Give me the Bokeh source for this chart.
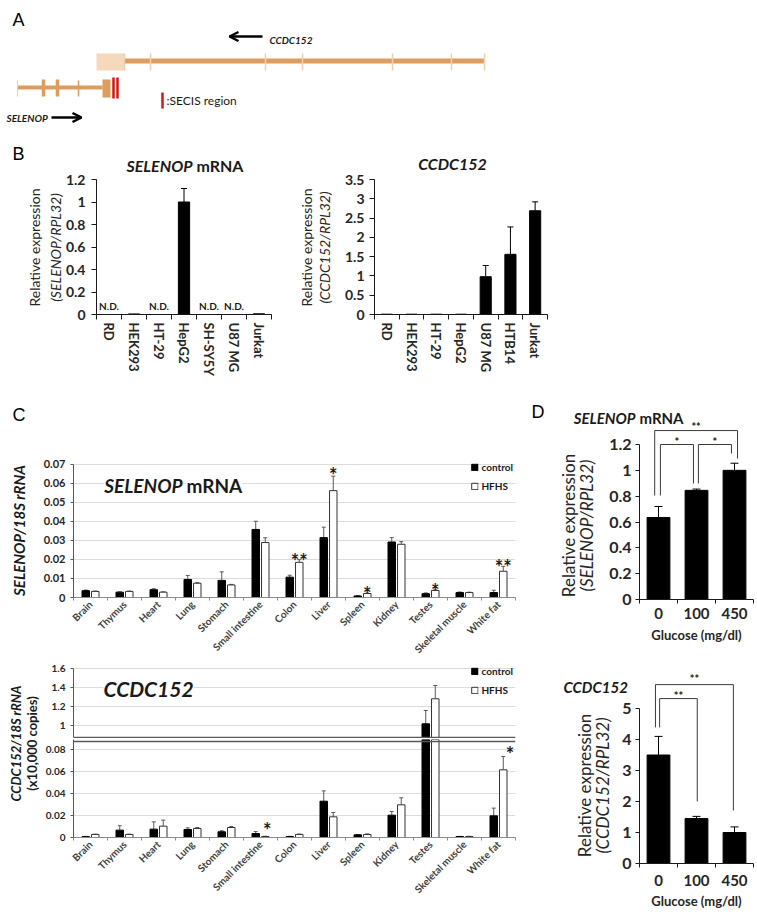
import math
from bokeh.plotting import figure
from bokeh.models import (Range1d, FixedTicker, Label, ColumnDataSource, Whisker, TeeHead,
                          Arrow, OpenHead, Legend, LegendItem, Spacer, CustomJSTickFormatter, GridBox)
from bokeh.layouts import column, row
from bokeh.embed import file_html
from bokeh.resources import INLINE

FONT = "Lato"
LETTER_FONT = "Liberation Sans"
INK = "#1a1a1a"
ORANGE = "#dc9d5e"
LIGHT = "#f3cfae"
PALE = "#f6d8bc"
RED = "#cc1a1a"

# ---------------- data ----------------
# Panel A : gene schematic (positions along the drawing)
ccdc_utr = [96, 124]
ccdc_body = [124, 484]
ccdc_exon_edges = [124, 150, 265, 302, 392, 451, 484]
selenop_body = [17, 102]
selenop_exon_big = [43, 57]
selenop_exon_small = [17, 78]
selenop_last_exon = [102, 110]
secis_pos = [113, 117]

# Panel B : cell lines
cells_sel = ["RD", "HEK293", "HT-29", "HepG2", "SH-SY5Y", "U87 MG", "Jurkat"]
sel_cells = [0.0, 0.005, 0.0, 1.0, 0.0, 0.0, 0.006]
sel_cells_err = [0, 0, 0, 0.12, 0, 0, 0]
sel_cells_nd = [1, 0, 1, 0, 1, 1, 0]
cells_ccdc = ["RD", "HEK293", "HT-29", "HepG2", "U87 MG", "HTB14", "Jurkat"]
ccdc_cells = [0.008, 0.008, 0.008, 0.008, 0.98, 1.56, 2.69]
ccdc_cells_err = [0, 0, 0, 0, 0.29, 0.71, 0.23]

# Panel C : mouse tissues, control vs HFHS
tissues = ["Brain", "Thymus", "Heart", "Lung", "Stomach", "Small intestine", "Colon",
           "Liver", "Spleen", "Kidney", "Testes", "Skeletal muscle", "White fat"]
sel_ctrl = [0.0036, 0.0028, 0.0041, 0.0095, 0.0090, 0.0358, 0.0107, 0.0315, 0.0008, 0.0292, 0.0020, 0.0026, 0.0026]
sel_ctrl_err = [0.0003, 0.0002, 0.0005, 0.0021, 0.0045, 0.0043, 0.0010, 0.0055, 0.0002, 0.0023, 0.0004, 0.0003, 0.0012]
sel_hfhs = [0.0032, 0.0032, 0.0028, 0.0075, 0.0066, 0.0289, 0.0185, 0.0562, 0.0021, 0.0280, 0.0037, 0.0026, 0.0138]
sel_hfhs_err = [0.0002, 0.0002, 0.0002, 0.0003, 0.0003, 0.0025, 0.0014, 0.0076, 0.0002, 0.0014, 0.0003, 0.0002, 0.0026]
sel_stars = [(6, "**", 0.0233), (7, "*", 0.0679), (8, "*", 0.0062), (10, "*", 0.0073), (12, "**", 0.0202)]

ccdc_ctrl = [0.0008, 0.0067, 0.0076, 0.0073, 0.0052, 0.0036, 0.0009, 0.0330, 0.0024, 0.0203, 1.018, 0.0009, 0.0197]
ccdc_ctrl_err = [0.0002, 0.0040, 0.0066, 0.0015, 0.0009, 0.0018, 0.0002, 0.0094, 0.0003, 0.0033, 0.14, 0.0002, 0.0070]
ccdc_hfhs = [0.0028, 0.0028, 0.0103, 0.0082, 0.0091, 0.0009, 0.0028, 0.0188, 0.0027, 0.0297, 1.281, 0.0009, 0.0615]
ccdc_hfhs_err = [0.0002, 0.0002, 0.0055, 0.0009, 0.0009, 0.0002, 0.0003, 0.0039, 0.0006, 0.0064, 0.14, 0.0002, 0.0121]
ccdc_stars = [(5, "*", 0.0127), (12, "*", 0.0813)]

# Panel D : glucose
glucose = ["0", "100", "450"]
sel_glu = [0.635, 0.845, 1.0]
sel_glu_err = [0.085, 0.01, 0.055]
ccdc_glu = [3.5, 1.45, 1.0]
ccdc_glu_err = [0.6, 0.07, 0.18]
# brackets: (x from, x to, top, left leg bottom, right leg bottom, label, label y)
sel_brackets = [(0.40, 2.58, 1.308, 0.805, 1.091, "**", 1.362),
                (0.55, 1.42, 1.2, 0.805, 0.898, "*", 1.246),
                (1.55, 2.42, 1.2, 0.898, 1.13, "*", 1.246)]
ccdc_brackets = [(0.42, 2.47, 5.77, 4.39, 1.71, "**", 6.06),
                 (0.53, 1.52, 5.32, 4.39, 2.0, "**", 5.52)]


# ---------------- helpers ----------------
class Geo:
    def __init__(self, fx, fy, W, H, fl, fr, ft, fb, xr, yr):
        self.fx, self.fy, self.W, self.H = fx, fy, W, H
        self.fl, self.fr, self.ft, self.fb = fl, fr, ft, fb
        self.xr, self.yr = xr, yr

    def PX(self, x):
        return self.fl + (x - self.xr[0]) / (self.xr[1] - self.xr[0]) * (self.fr - self.fl)

    def PY(self, y):
        return self.fb - (y - self.yr[0]) / (self.yr[1] - self.yr[0]) * (self.fb - self.ft)


def mkfig(g, xaxis=True, yaxis=True):
    p = figure(width=g.W, height=g.H, x_range=Range1d(*g.xr), y_range=Range1d(*g.yr),
               x_axis_location="below" if xaxis else None,
               y_axis_location="left" if yaxis else None,
               min_border_left=g.fl - g.fx, min_border_right=g.fx + g.W - g.fr,
               min_border_top=g.ft - g.fy, min_border_bottom=g.fy + g.H - g.fb,
               output_backend="svg", toolbar_location=None)
    p.outline_line_color = None
    p.grid.visible = False
    return p


# overlay figure that carries all free texts, in page pixel coordinates
W_PAGE, H_PAGE = 757, 917
gO = Geo(0, 0, W_PAGE, H_PAGE, 0, W_PAGE, 0, H_PAGE, (0, W_PAGE), (H_PAGE, 0))
pO = mkfig(gO, False, False)
pO.background_fill_color = None
pO.border_fill_color = None


def txt(px, py, text, size, style="bold", color=INK, align="center",
        baseline="middle", angle=0.0, font=FONT, bg=None):
    lab = Label(x=px, y=py, text=text, text_font=font,
                text_font_size=f"{size}px", text_font_style=style, text_color=color,
                text_align=align, text_baseline=baseline, angle=angle)
    if bg is not None:
        lab.background_fill_color = bg
    pO.add_layout(lab)


def star(g, x, y, text, size, color=INK):
    txt(g.PX(x), g.PY(y) + 0.3 * size, text, size, color=color)


def errbars(p, xs, tops, errs, color, size, yr=None):
    xx, lo, hi = [], [], []
    for x, t, e in zip(xs, tops, errs):
        if e <= 0:
            continue
        if yr is not None and (t + e > yr[1] or t < yr[0]):
            continue
        xx.append(x); lo.append(t); hi.append(t + e)
    if not xx:
        return
    src = ColumnDataSource(dict(x=xx, lo=lo, hi=hi))
    p.add_layout(Whisker(source=src, base="x", lower="lo", upper="hi", dimension="height",
                         line_color=color, line_width=1, lower_head=None,
                         upper_head=TeeHead(size=size, line_color=color, line_width=1)))


def style_y(p, ticks, size, bounds, standoff, tick_out=4, color="#262626", line_color=INK):
    ax = p.yaxis[0]
    ax.ticker = FixedTicker(ticks=ticks, minor_ticks=[])
    ax.formatter = CustomJSTickFormatter(code="return String(Math.round(tick*10000)/10000);")
    ax.bounds = bounds
    ax.major_label_text_font = FONT
    ax.major_label_text_font_size = f"{size}px"
    ax.major_label_text_font_style = "bold"
    ax.major_label_text_color = color
    ax.major_label_standoff = standoff
    ax.major_tick_in = 0
    ax.major_tick_out = tick_out
    ax.major_tick_line_color = line_color
    ax.axis_line_color = line_color
    ax.minor_tick_line_color = None


def style_x(p, names, size, orientation, standoff, tick_out=4, color="#262626", line_color=INK):
    ax = p.xaxis[0]
    n = len(names)
    ax.ticker = FixedTicker(ticks=[i + 0.5 for i in range(n)], minor_ticks=list(range(n + 1)))
    ax.formatter = CustomJSTickFormatter(
        args=dict(names=names),
        code="const i = Math.floor(tick); return (i >= 0 && i < names.length) ? names[i] : '';")
    ax.major_tick_in = 0
    ax.major_tick_out = 0
    ax.minor_tick_in = 0
    ax.minor_tick_out = tick_out
    ax.minor_tick_line_color = line_color
    ax.axis_line_color = line_color
    ax.major_label_orientation = orientation
    ax.major_label_text_font = FONT
    ax.major_label_text_font_size = f"{size}px"
    ax.major_label_text_font_style = "bold"
    ax.major_label_text_color = color
    ax.major_label_standoff = standoff


# ---------------- Panel A ----------------
gA = Geo(0, 0, W_PAGE, 138, 0, W_PAGE, 0, 138, (0, W_PAGE), (138, 0))
pA = mkfig(gA, False, False)
pA.quad(left=ccdc_utr[0], right=ccdc_utr[1], top=53, bottom=70, fill_color=PALE, line_color=None)
pA.segment(x0=ccdc_body[0], x1=ccdc_body[1], y0=60.5, y1=60.5, line_width=5, line_color=ORANGE)
pA.segment(x0=ccdc_exon_edges, x1=ccdc_exon_edges, y0=53, y1=70, line_width=1.5, line_color=LIGHT)
pA.segment(x0=selenop_body[0], x1=selenop_body[1], y0=87, y1=87, line_width=4, line_color=ORANGE)
pA.segment(x0=[selenop_exon_small[0]], x1=[selenop_exon_small[0]], y0=80, y1=96, line_width=1.2, line_color=LIGHT)
pA.segment(x0=selenop_exon_small[1:], x1=selenop_exon_small[1:], y0=80, y1=96, line_width=1.5, line_color=ORANGE)
pA.segment(x0=selenop_exon_big, x1=selenop_exon_big, y0=79, y1=96, line_width=3.5, line_color=ORANGE)
pA.quad(left=selenop_last_exon[0], right=selenop_last_exon[1], top=79, bottom=97, fill_color=ORANGE, line_color=None)
pA.segment(x0=secis_pos, x1=secis_pos, y0=77, y1=98, line_width=2.5, line_color=RED)
pA.segment(x0=[162], x1=[162], y0=92, y1=108, line_width=2.5, line_color=RED)
pA.add_layout(Arrow(end=OpenHead(size=9, line_width=2.5, line_color="black"),
                    x_start=262, y_start=36, x_end=229, y_end=36, line_width=2.5, line_color="black"))
pA.add_layout(Arrow(end=OpenHead(size=9, line_width=2.5, line_color="black"),
                    x_start=51, y_start=117, x_end=81, y_end=117, line_width=2.5, line_color="black"))
txt(12, 19, "A", 18, style="normal", align="left", font=LETTER_FONT, color="black")
txt(269, 39, "CCDC152", 10, style="bold italic", align="left")
txt(6, 117, "SELENOP", 10, style="bold italic", align="left")
txt(166, 100, ":SECIS region", 12, style="normal", align="left")

# ---------------- Panel B ----------------
gB1 = Geo(0, 138, 290, 262, 96, 271, 179, 314, (0, 7), (0, 1.2))
pB1 = mkfig(gB1)
xs7 = [i + 0.5 for i in range(7)]
pB1.vbar(x=xs7, top=sel_cells, width=0.45, fill_color="black", line_color="black")
errbars(pB1, xs7, sel_cells, sel_cells_err, "black", 6)
style_x(pB1, cells_sel, 13, "vertical", 3, 5)
style_y(pB1, [0, 0.2, 0.4, 0.6, 0.8, 1, 1.2], 14, (0, 1.2), 6, 5)
for i, nd in enumerate(sel_cells_nd):
    if nd:
        txt(gB1.PX(xs7[i]), 305, "N.D.", 10)
txt(12, 153, "B", 18, style="normal", align="left", font=LETTER_FONT, color="black")
txt(192, 165, "SELENOP", 16, style="bold italic", align="right")
txt(196, 165, "mRNA", 16, style="bold", align="left")
txt(34, 247, "Relative expression", 14, style="normal", angle=math.pi / 2, color="#262626")
txt(55, 247, "(SELENOP/RPL32)", 14, style="italic", angle=math.pi / 2, color="#262626")

gB2 = Geo(290, 138, 270, 262, 374, 547, 179, 314, (0, 7), (0, 3.5))
pB2 = mkfig(gB2)
pB2.vbar(x=xs7, top=ccdc_cells, width=0.45, fill_color="black", line_color="black")
errbars(pB2, xs7, ccdc_cells, ccdc_cells_err, "black", 6)
style_x(pB2, cells_ccdc, 13, "vertical", 3, 5)
style_y(pB2, [0, 0.5, 1, 1.5, 2, 2.5, 3, 3.5], 14, (0, 3.5), 5, 5)
txt(452, 163, "CCDC152", 16, style="bold italic")
txt(306, 247, "Relative expression", 14, style="normal", angle=math.pi / 2, color="#262626")
txt(324, 247, "(CCDC152/RPL32)", 14, style="italic", angle=math.pi / 2, color="#262626")

# ---------------- Panel C ----------------
xs13 = [i + 0.5 for i in range(13)]
x_ctrl = [x - 0.14 for x in xs13]
x_hfhs = [x + 0.14 for x in xs13]
BW = 0.22
GRID = "#dcdcdc"
ERR = "#5a5a5a"


def c_legend(p, r1, r2):
    leg = Legend(items=[LegendItem(label="control", renderers=[r1]),
                        LegendItem(label="HFHS", renderers=[r2])],
                 location="top_right", margin=0, padding=2, spacing=6,
                 glyph_width=8, glyph_height=8, label_height=13, label_standoff=3,
                 label_text_font=FONT, label_text_font_size="10px", label_text_font_style="bold",
                 label_text_color=INK, border_line_alpha=0, background_fill_alpha=0)
    p.add_layout(leg)


gC1 = Geo(0, 400, 530, 262, 73, 515, 458, 599, (0, 13), (0, 0.07 * 141 / 135))
pC1 = mkfig(gC1)
r1 = pC1.vbar(x=x_ctrl, top=sel_ctrl, width=BW, fill_color="black", line_color="black")
r2 = pC1.vbar(x=x_hfhs, top=sel_hfhs, width=BW, fill_color="white", line_color="#333333")
errbars(pC1, x_ctrl, sel_ctrl, sel_ctrl_err, ERR, 4)
errbars(pC1, x_hfhs, sel_hfhs, sel_hfhs_err, ERR, 4)
style_x(pC1, tissues, 10, math.pi / 4, 2, 3, color="#404040", line_color="#8c8c8c")
style_y(pC1, [0, 0.01, 0.02, 0.03, 0.04, 0.05, 0.06, 0.07], 11, (0, 0.07), 5, 3, line_color="#595959")
pC1.ygrid.visible = True
pC1.ygrid.grid_line_color = GRID
c_legend(pC1, r1, r2)
for i, s, y in sel_stars:
    star(gC1, x_hfhs[i], y, s, 20)
txt(12, 414, "C", 18, style="normal", align="left", font=LETTER_FONT, color="black")
txt(182, 485, "SELENOP", 19, style="bold italic", align="right", bg="white")
txt(186, 485, "mRNA", 19, style="bold", align="left", bg="white")
txt(18, 530, "SELENOP/18S rRNA", 15, style="bold italic", angle=math.pi / 2)

BREAK_UP = 0.8737
BREAK_LO = 0.0873
gC2 = Geo(0, 662, 530, 76, 71, 522, 662, 738, (0, 13), (0.8632, 1.6632))
pC2 = mkfig(gC2, xaxis=False)
q1 = pC2.vbar(x=x_ctrl, top=ccdc_ctrl, width=BW, fill_color="black", line_color="black")
q2 = pC2.vbar(x=x_hfhs, top=ccdc_hfhs, width=BW, fill_color="white", line_color="#333333")
errbars(pC2, x_ctrl, ccdc_ctrl, ccdc_ctrl_err, ERR, 4, gC2.yr)
errbars(pC2, x_hfhs, ccdc_hfhs, ccdc_hfhs_err, ERR, 4, gC2.yr)
style_y(pC2, [1, 1.2, 1.4, 1.6], 10, (BREAK_UP, 1.6), 5, 3, line_color="#595959")
pC2.ygrid.visible = True
pC2.ygrid.grid_line_color = GRID
pC2.segment(x0=[0], x1=[13], y0=[BREAK_UP], y1=[BREAK_UP], line_width=1.5, line_color="#595959")
c_legend(pC2, q1, q2)
txt(103, 688, "CCDC152", 21, style="bold italic", align="left", bg="white")
txt(15, 743, "CCDC152/18S rRNA", 13, style="bold italic", angle=math.pi / 2)
txt(31, 743, "(x10,000 copies)", 13, style="bold", angle=math.pi / 2)

gC3 = Geo(0, 738, 530, 179, 71, 522, 739, 837, (0, 13), (0, 0.0891))
pC3 = mkfig(gC3)
pC3.vbar(x=x_ctrl, top=ccdc_ctrl, width=BW, fill_color="black", line_color="black")
pC3.vbar(x=x_hfhs, top=ccdc_hfhs, width=BW, fill_color="white", line_color="#333333")
errbars(pC3, x_ctrl, ccdc_ctrl, ccdc_ctrl_err, ERR, 4, gC3.yr)
errbars(pC3, x_hfhs, ccdc_hfhs, ccdc_hfhs_err, ERR, 4, gC3.yr)
style_x(pC3, tissues, 10, math.pi / 4, 2, 3, color="#404040", line_color="#8c8c8c")
style_y(pC3, [0, 0.02, 0.04, 0.06, 0.08], 10, (0, 0.0891), 5, 3, line_color="#595959")
pC3.ygrid.visible = True
pC3.ygrid.grid_line_color = GRID
pC3.segment(x0=[0], x1=[13], y0=[BREAK_LO], y1=[BREAK_LO], line_width=1.5, line_color="#595959")
for i, s, y in ccdc_stars:
    star(gC3, x_hfhs[i], y, s, 20)

# ---------------- Panel D ----------------
xs3 = [i + 0.5 for i in range(3)]


def brackets(p, g, specs, size):
    for x0, x1, top, lb, rb, s, sy in specs:
        p.line(x=[x0, x0, x1, x1], y=[lb, top, top, rb], line_color="#3a3a3a", line_width=1)
        star(g, (x0 + x1) / 2, sy, s, size)


gD1 = Geo(530, 400, 227, 262, 639, 753, 415, 599, (0, 3), (0, 1.2 * 184 / 155))
pD1 = mkfig(gD1)
pD1.vbar(x=xs3, top=sel_glu, width=0.6, fill_color="black", line_color="black")
errbars(pD1, xs3, sel_glu, sel_glu_err, "black", 8)
style_x(pD1, glucose, 15, "horizontal", 4, 4)
style_y(pD1, [0, 0.2, 0.4, 0.6, 0.8, 1, 1.2], 16, (0, 1.2), 4, 4)
brackets(pD1, gD1, sel_brackets, 11)
txt(531, 411, "D", 18, style="normal", align="left", font=LETTER_FONT, color="black")
txt(635, 417, "SELENOP", 15, style="bold italic", align="right")
txt(639, 417, "mRNA", 15, style="bold", align="left")
txt(568, 525, "Relative expression", 17, style="normal", angle=math.pi / 2, color="#262626")
txt(586, 525, "(SELENOP/RPL32)", 17, style="italic", angle=math.pi / 2, color="#262626")
txt(696, 634, "Glucose (mg/dl)", 13, style="bold", color="#262626")

gD2 = Geo(530, 662, 227, 255, 639, 753, 663, 863, (0, 3), (0, 200 / 31))
pD2 = mkfig(gD2)
pD2.vbar(x=xs3, top=ccdc_glu, width=0.6, fill_color="black", line_color="black")
errbars(pD2, xs3, ccdc_glu, ccdc_glu_err, "black", 8)
style_x(pD2, glucose, 15, "horizontal", 7, 4)
style_y(pD2, [0, 1, 2, 3, 4, 5], 16, (0, 5), 4, 4)
brackets(pD2, gD2, ccdc_brackets, 11)
txt(563, 686, "CCDC152", 15, style="bold italic", align="left")
txt(584, 785, "Relative expression", 17, style="normal", angle=math.pi / 2, color="#262626")
txt(602, 785, "(CCDC152/RPL32)", 17, style="italic", angle=math.pi / 2, color="#262626")
txt(696, 900, "Glucose (mg/dl)", 13, style="bold", color="#262626")

# ---------------- layout ----------------
main = column(
    pA,
    row(pB1, pB2, Spacer(width=197, height=262)),
    row(column(pC1, pC2, pC3), column(pD1, pD2)),
)
page = GridBox(children=[(main, 0, 0), (pO, 0, 0)])

open("out.html", "w").write(file_html(page, INLINE))
